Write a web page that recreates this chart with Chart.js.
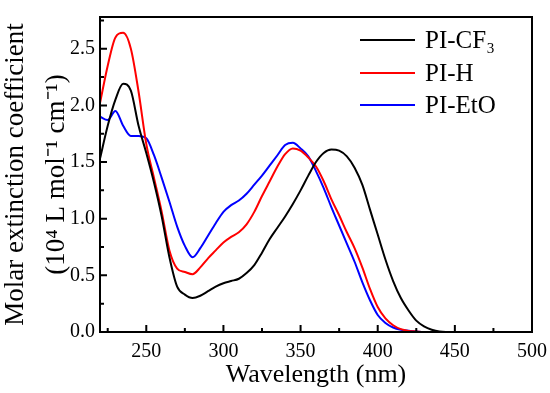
<!DOCTYPE html>
<html>
<head>
<meta charset="utf-8">
<script src="https://cdn.jsdelivr.net/npm/chart.js@4"></script>
<style>
  body { margin: 0; background: #fff; }
  #wrap { width: 550px; height: 393px; position: relative; }
</style>
</head>
<body>
<div id="wrap"><canvas id="chart"></canvas></div>
<script>
// wavelengths in nm:
const wavelengths = [220, 225, 230, 235, 240, 245, 250, 255, 260, 265, 270, 275, 280, 285, 290, 295,
  300, 305, 310, 315, 320, 325, 330, 335, 340, 345, 350, 355, 360, 365, 370, 375,
  380, 385, 390, 395, 400, 405, 410, 415, 420, 425, 430, 435, 440, 450, 460, 470, 480, 490, 500];

// molar extinction coefficient, 10^4 L mol-1 cm-1:
const piCF3 = [1.53, 1.82, 2.05, 2.19, 2.13, 1.82, 1.58, 1.32, 1.02, 0.66, 0.40, 0.33, 0.30, 0.32, 0.36, 0.40,
  0.43, 0.45, 0.47, 0.52, 0.59, 0.70, 0.82, 0.92, 1.02, 1.13, 1.25, 1.38, 1.50, 1.58, 1.61, 1.60,
  1.55, 1.45, 1.30, 1.08, 0.86, 0.64, 0.45, 0.30, 0.19, 0.10, 0.05, 0.02, 0.005, 0, 0, 0, 0, 0, 0];
const piH = [2.02, 2.35, 2.60, 2.64, 2.50, 2.12, 1.66, 1.36, 1.06, 0.72, 0.56, 0.53, 0.51, 0.57, 0.65, 0.72,
  0.79, 0.84, 0.88, 0.95, 1.06, 1.20, 1.33, 1.46, 1.57, 1.62, 1.60, 1.54, 1.46, 1.33, 1.17, 1.03,
  0.88, 0.74, 0.57, 0.38, 0.22, 0.12, 0.06, 0.025, 0.01, 0.005, 0, 0, 0, 0, 0, 0, 0, 0, 0];
const piEtO = [1.90, 1.87, 1.95, 1.82, 1.73, 1.73, 1.71, 1.56, 1.36, 1.15, 0.93, 0.76, 0.66, 0.74, 0.85, 0.96,
  1.06, 1.12, 1.16, 1.22, 1.30, 1.38, 1.47, 1.56, 1.65, 1.67, 1.62, 1.55, 1.42, 1.27, 1.10, 0.94,
  0.78, 0.62, 0.44, 0.28, 0.15, 0.08, 0.04, 0.02, 0.01, 0.005, 0, 0, 0, 0, 0, 0, 0, 0, 0];

const seriesNames = ['PI-CF\u2083', 'PI-H', 'PI-EtO'];
const seriesColors = ['#000000', '#ff0000', '#0000ff'];

const serif = '"Liberation Serif", "Times New Roman", serif';

// turn the arrays into x/y points:
function points(values) {
  return wavelengths.map((w, i) => ({ x: w, y: values[i] }));
}

// draws the box, inward ticks (major + minor) and the legend:
const framePlugin = {
  id: 'frame',
  afterDatasetsDraw(chart) {
    const ctx = chart.ctx;
    const area = chart.chartArea;
    const xs = chart.scales.x;
    const ys = chart.scales.y;
    ctx.save();
    ctx.strokeStyle = '#000';
    ctx.lineWidth = 2;
    ctx.strokeRect(area.left, area.top, area.right - area.left, area.bottom - area.top);

    ctx.beginPath();
    // x ticks every 25, long ones every 50:
    for (let v = 225; v < 500; v += 25) {
      const px = xs.getPixelForValue(v);
      const len = v % 50 === 0 ? 7 : 4;
      ctx.moveTo(px, area.bottom);
      ctx.lineTo(px, area.bottom - len);
    }
    // y ticks every 0.25, long ones every 0.5:
    for (let i = 1; i * 0.25 < ys.max; i++) {
      const py = ys.getPixelForValue(i * 0.25);
      const len = i % 2 === 0 ? 7 : 4;
      ctx.moveTo(area.left, py);
      ctx.lineTo(area.left + len, py);
    }
    ctx.stroke();

    // legend inside the plot:
    const rows = [40, 73, 105];
    ctx.font = '25px ' + serif;
    ctx.textBaseline = 'middle';
    ctx.textAlign = 'left';
    chart.data.datasets.forEach((ds, i) => {
      ctx.strokeStyle = ds.borderColor;
      ctx.lineWidth = 2;
      ctx.beginPath();
      ctx.moveTo(360, rows[i]);
      ctx.lineTo(415, rows[i]);
      ctx.stroke();
      ctx.fillStyle = '#000';
      ctx.fillText(ds.label, 425, rows[i] + 1);
    });
    ctx.restore();
  }
};

const data = {
  datasets: seriesNames.map((name, i) => ({
    label: name,
    data: points([piCF3, piH, piEtO][i]),
    borderColor: seriesColors[i],
    borderWidth: 2,
    pointRadius: 0,
    cubicInterpolationMode: 'monotone'
  }))
};

const config = {
  type: 'line',
  data: data,
  options: {
    responsive: true,
    maintainAspectRatio: false,
    devicePixelRatio: 1,
    animation: false,
    layout: { padding: { left: 0, right: 18, top: 14, bottom: 0 } },
    plugins: {
      legend: { display: false },
      tooltip: { enabled: false }
    },
    scales: {
      x: {
        type: 'linear',
        min: 220,
        max: 500,
        grid: { display: false, drawTicks: false },
        border: { display: false },
        ticks: {
          stepSize: 50,
          includeBounds: false,
          padding: 8,
          color: '#000',
          font: { family: serif, size: 20 }
        },
        title: {
          display: true,
          text: 'Wavelength (nm)',
          color: '#000',
          font: { family: serif, size: 26 },
          padding: { top: 0, bottom: 2 }
        },
        afterFit(scale) {
          scale.height = 61;
          // the "500" label may hang over the right padding:
          scale.paddingLeft = 0;
          scale.paddingRight = 0;
        }
      },
      y: {
        min: 0,
        max: 2.78,
        grid: { display: false, drawTicks: false },
        border: { display: false },
        ticks: {
          stepSize: 0.5,
          includeBounds: false,
          padding: 5,
          color: '#000',
          font: { family: serif, size: 20 },
          callback: (v) => v.toFixed(1)
        },
        title: {
          display: true,
          text: ['Molar extinction coefficient', '(10\u2074 L mol\u207B\u00B9 cm\u207B\u00B9)'],
          color: '#000',
          font: { family: serif, size: 27, lineHeight: 1.5 },
          padding: { top: -4, bottom: 0 }
        },
        afterFit(scale) { scale.width = 100; }
      }
    }
  },
  plugins: [framePlugin]
};

const chart = new Chart(document.getElementById('chart'), config);
</script>
</body>
</html>
